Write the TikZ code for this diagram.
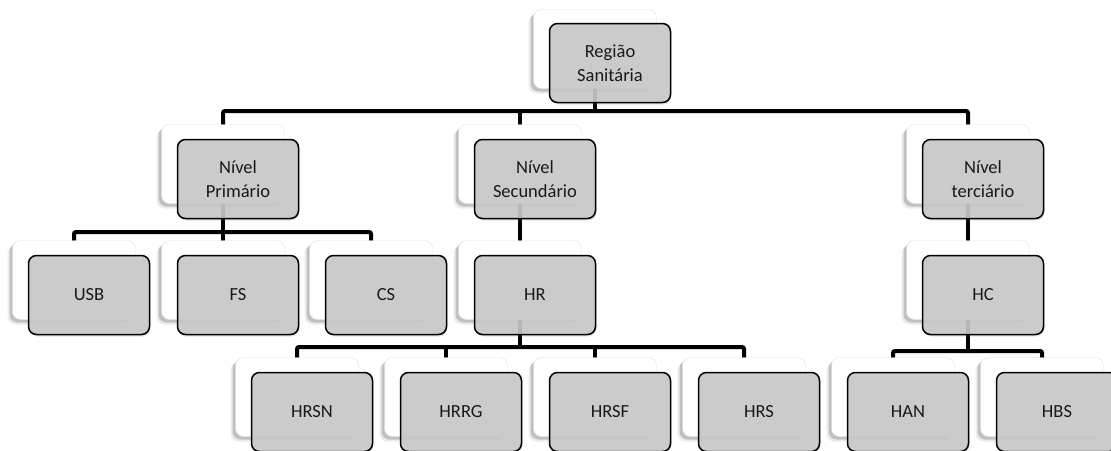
\documentclass[tikz,border=0pt]{standalone}
\usepackage{fontspec}
\setmainfont{Carlito}
\usetikzlibrary{backgrounds,shadows}

\tikzset{
  backbox/.style={draw=black!12, fill=white, rounded corners=8pt,
    minimum width=123pt, minimum height=79pt,
    drop shadow={shadow xshift=-5pt, shadow yshift=-5pt, opacity=0.08, fill=black},
    drop shadow={shadow xshift=-3pt, shadow yshift=-3pt, opacity=0.18, fill=black}},
  frontbox/.style={draw=black, line width=1.5pt, fill=black!21, fill opacity=0.9,
    text opacity=1, rounded corners=8pt, minimum width=121pt, minimum height=79pt,
    align=center, text=black!90, font=\fontsize{18.5}{24}\selectfont,
    drop shadow={shadow xshift=1pt, shadow yshift=-2pt, opacity=0.2}},
  bus/.style={line width=4pt, rounded corners=2pt},
}

\begin{document}
\begin{tikzpicture}[x=1pt,y=-1pt]
		\useasboundingbox (0,0) rectangle (1111,450);
		% nivel 0
		\node[backbox] (reg) at (595,49) {};
		\node[frontbox] (regf) at ([shift={(15,14)}]reg) {Região\\Sanitária};
		% nivel 1
		\node[backbox] (prim) at (223,164) {};
		\node[frontbox] (primf) at ([shift={(15,15)}]prim) {Nível\\Primário};
		\node[backbox] (sec) at (520,164) {};
		\node[frontbox] (secf) at ([shift={(15,15)}]sec) {Nível\\Secundário};
		\node[backbox] (ter) at (968,164) {};
		\node[frontbox] (terf) at ([shift={(15,15)}]ter) {Nível\\terciário};
		% nivel 2
		\node[backbox] (usb) at (74,280) {};
		\node[frontbox] (usbf) at ([shift={(15,15)}]usb) {USB};
		\node[backbox] (fs) at (223,280) {};
		\node[frontbox] (fsf) at ([shift={(15,15)}]fs) {FS};
		\node[backbox] (cs) at (371,280) {};
		\node[frontbox] (csf) at ([shift={(15,15)}]cs) {CS};
		\node[backbox] (hr) at (520,280) {};
		\node[frontbox] (hrf) at ([shift={(15,15)}]hr) {HR};
		\node[backbox] (hc) at (968,280) {};
		\node[frontbox] (hcf) at ([shift={(15,15)}]hc) {HC};
		% nivel 3
		\node[backbox] (hrsn) at (297,397) {};
		\node[frontbox] (hrsnf) at ([shift={(15,15)}]hrsn) {HRSN};
		\node[backbox] (hrrg) at (446,397) {};
		\node[frontbox] (hrrgf) at ([shift={(15,15)}]hrrg) {HRRG};
		\node[backbox] (hrsf) at (595,397) {};
		\node[frontbox] (hrsff) at ([shift={(15,15)}]hrsf) {HRSF};
		\node[backbox] (hrs) at (744,397) {};
		\node[frontbox] (hrsf2) at ([shift={(15,15)}]hrs) {HRS};
		\node[backbox] (han) at (893,397) {};
		\node[frontbox] (hanf) at ([shift={(15,15)}]han) {HAN};
		\node[backbox] (hbs) at (1042,397) {};
		\node[frontbox] (hbsf) at ([shift={(15,15)}]hbs) {HBS};
		% ligacoes
		\begin{scope}[on background layer]
			\fill[white] (0,0) rectangle (1111,450);
			\coordinate (y1) at (0,111);
			\coordinate (y2) at (0,232);
			\coordinate (y3) at (0,347);
			\coordinate (y4) at (0,351);
			\draw[bus] (reg.center) -- (reg.center |- y1);
			\draw[bus] (prim.center) -- (prim.center |- y1) -- (ter.center |- y1) -- (ter.center);
			\draw[bus] (sec.center) -- (sec.center |- y1);
			\draw[bus] (prim.center) -- (prim.center |- y2);
			\draw[bus] (usb.center) -- (usb.center |- y2) -- (cs.center |- y2) -- (cs.center);
			\draw[bus] (fs.center) -- (fs.center |- y2);
			\draw[bus] (sec.center) -- (hr.center);
			\draw[bus] (ter.center) -- (hc.center);
			\draw[bus] (hr.center) -- (hr.center |- y3);
			\draw[bus] (hrsn.center) -- (hrsn.center |- y3) -- (hrs.center |- y3) -- (hrs.center);
			\draw[bus] (hrrg.center) -- (hrrg.center |- y3);
			\draw[bus] (hrsf.center) -- (hrsf.center |- y3);
			\draw[bus] (hc.center) -- (hc.center |- y4);
			\draw[bus] (han.center) -- (han.center |- y4) -- (hbs.center |- y4) -- (hbs.center);
		\end{scope}
\end{tikzpicture}
\end{document}
